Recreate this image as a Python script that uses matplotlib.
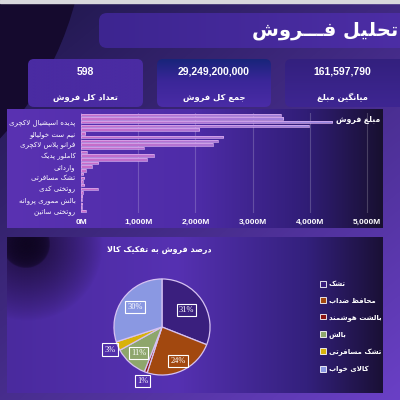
import numpy as np
import matplotlib
matplotlib.use('Agg')
import matplotlib.pyplot as plt
from matplotlib.patches import FancyBboxPatch, Circle, Rectangle
from matplotlib.colors import to_rgb

# ---------------- data ----------------
title_text = 'تحلیل فـــروش'
kpi_labels = ['تعداد کل فروش', 'جمع کل فروش', 'میانگین مبلغ']
kpi_values = ['598', '29,249,200,000', '161,597,790']

bar_title = 'مبلغ فروش'
bar_values_m = [3490, 3540, 4390, 3980, 2070, 70, 2490, 2390, 2300, 1100,
                100, 1270, 1150, 300, 190, 80, 40, 60, 30, 60,
                290, 30, 20, 15, 25, 10, 80]
bar_tick_labels = ['پدیده اسپشیال لاکچری', 'نیم ست خولیالو', 'فرانو پلاس لاکچری',
                   'کاملور پدیک', 'وارداتی', 'تشک مسافرتی', 'روتختی کدی',
                   'بالش مموری پروانه', 'روتختی ساتین']
x_ticks_m = [0, 1000, 2000, 3000, 4000, 5000]

pie_title = 'درصد فروش به تفکیک کالا'
pie_labels = ['تشک', 'محافظ ضداب', 'بالشت هوشمند', 'بالش', 'تشک مسافرتی', 'کالای خواب']
pie_values = [31, 24, 1, 11, 3, 30]

# ---------------- minimal Persian shaping ----------------
_F = {
 '\u0627': ('\uFE8D', '\uFE8E', None, None), '\u0622': ('\uFE81', '\uFE82', None, None),
 '\u0628': ('\uFE8F', '\uFE90', '\uFE91', '\uFE92'), '\u062A': ('\uFE95', '\uFE96', '\uFE97', '\uFE98'),
 '\u062B': ('\uFE99', '\uFE9A', '\uFE9B', '\uFE9C'), '\u062C': ('\uFE9D', '\uFE9E', '\uFE9F', '\uFEA0'),
 '\u062D': ('\uFEA1', '\uFEA2', '\uFEA3', '\uFEA4'), '\u062E': ('\uFEA5', '\uFEA6', '\uFEA7', '\uFEA8'),
 '\u062F': ('\uFEA9', '\uFEAA', None, None), '\u0630': ('\uFEAB', '\uFEAC', None, None),
 '\u0631': ('\uFEAD', '\uFEAE', None, None), '\u0632': ('\uFEAF', '\uFEB0', None, None),
 '\u0633': ('\uFEB1', '\uFEB2', '\uFEB3', '\uFEB4'), '\u0634': ('\uFEB5', '\uFEB6', '\uFEB7', '\uFEB8'),
 '\u0635': ('\uFEB9', '\uFEBA', '\uFEBB', '\uFEBC'), '\u0636': ('\uFEBD', '\uFEBE', '\uFEBF', '\uFEC0'),
 '\u0637': ('\uFEC1', '\uFEC2', '\uFEC3', '\uFEC4'), '\u0638': ('\uFEC5', '\uFEC6', '\uFEC7', '\uFEC8'),
 '\u0639': ('\uFEC9', '\uFECA', '\uFECB', '\uFECC'), '\u063A': ('\uFECD', '\uFECE', '\uFECF', '\uFED0'),
 '\u0641': ('\uFED1', '\uFED2', '\uFED3', '\uFED4'), '\u0642': ('\uFED5', '\uFED6', '\uFED7', '\uFED8'),
 '\u0644': ('\uFEDD', '\uFEDE', '\uFEDF', '\uFEE0'), '\u0645': ('\uFEE1', '\uFEE2', '\uFEE3', '\uFEE4'),
 '\u0646': ('\uFEE5', '\uFEE6', '\uFEE7', '\uFEE8'), '\u0647': ('\uFEE9', '\uFEEA', '\uFEEB', '\uFEEC'),
 '\u0648': ('\uFEED', '\uFEEE', None, None), '\u064A': ('\uFEF1', '\uFEF2', '\uFEF3', '\uFEF4'),
 '\u067E': ('\uFB56', '\uFB57', '\uFB58', '\uFB59'), '\u0686': ('\uFB7A', '\uFB7B', '\uFB7C', '\uFB7D'),
 '\u0698': ('\uFB8A', '\uFB8B', None, None), '\u06A9': ('\uFB8E', '\uFB8F', '\uFB90', '\uFB91'),
 '\u06AF': ('\uFB92', '\uFB93', '\uFB94', '\uFB95'), '\u06CC': ('\uFBFC', '\uFBFD', '\uFBFE', '\uFBFF'),
 '\u0640': ('\u0640', '\u0640', '\u0640', '\u0640'),
}


def fa(s):
    ch = list(s)
    n = len(ch)
    out = []
    dual = lambda c: c in _F and _F[c][2] is not None
    i = 0
    while i < n:
        c = ch[i]
        if c not in _F:
            if c != '\u200c':
                out.append(c)
            i += 1
            continue
        pj = i > 0 and dual(ch[i - 1])
        if c == '\u0644' and i + 1 < n and ch[i + 1] in ('\u0627', '\u0622'):
            if ch[i + 1] == '\u0627':
                out.append('\uFEFC' if pj else '\uFEFB')
            else:
                out.append('\uFEF6' if pj else '\uFEF5')
            i += 2
            continue
        nj = dual(c) and i + 1 < n and ch[i + 1] in _F
        f = _F[c]
        g = f[3] if (pj and nj) else f[1] if pj else f[2] if nj else f[0]
        out.append(g)
        i += 1
    return ''.join(reversed(out))


FA = ['DejaVu Sans']
NUM = ['Liberation Sans', 'DejaVu Sans']

# ---------------- helpers ----------------

def ramp(stops, n=256):
    pos = [s[0] for s in stops]
    cols = np.array([to_rgb(s[1]) for s in stops])
    t = np.linspace(0, 1, n)
    return np.stack([np.interp(t, pos, cols[:, k]) for k in range(3)], axis=-1)


def grad(ax, x0, x1, y0, y1, stops, horizontal=True, clip=None, z=1, alpha=1.0):
    arr = ramp(stops)
    img = arr[None, :, :] if horizontal else arr[:, None, :]
    im = ax.imshow(img, extent=(x0, x1, y1, y0), origin='upper', aspect='auto',
                   zorder=z, alpha=alpha, interpolation='bilinear')
    if clip is not None:
        im.set_clip_path(clip)
    return im


def blob(ax, cx, cy, r, color, z, amax=1.0, pw=0.6):
    n = 200
    xs = np.linspace(cx - r, cx + r, n)
    ys = np.linspace(cy - r, cy + r, n)
    X, Y = np.meshgrid(xs, ys)
    d = np.sqrt((X - cx) ** 2 + (Y - cy) ** 2) / r
    a = np.clip(1 - d, 0, 1) ** pw * amax
    rgba = np.zeros((n, n, 4))
    rgba[..., :3] = to_rgb(color)
    rgba[..., 3] = a
    return ax.imshow(rgba, extent=(cx - r, cx + r, cy + r, cy - r), origin='upper',
                     aspect='auto', zorder=z, interpolation='bilinear')


fig = plt.figure(figsize=(4, 4), dpi=100)
bg = fig.add_axes([0, 0, 1, 1])
bg.set_xlim(0, 400)
bg.set_ylim(400, 0)
bg.axis('off')

# page background
yy, xx = np.mgrid[0:200, 0:200] / 199.0
c1 = np.array(to_rgb('#1d1648'))
c2 = np.array(to_rgb('#6a40c6'))
t = np.clip(0.55 * yy + 0.45 * xx, 0, 1)[..., None]
bg.imshow(c1 * (1 - t) + c2 * t, extent=(0, 400, 400, 0), origin='upper',
          aspect='auto', zorder=0, interpolation='bilinear')
bg.add_patch(Circle((-236, -80), 321, color='#150a2e', zorder=0.5))
bg.add_patch(Rectangle((0, 0), 400, 3, color='#d8d8dc', zorder=10))

# title box
tb = FancyBboxPatch((99, 13), 320, 35, boxstyle='round,pad=0,rounding_size=8',
                    facecolor='none', edgecolor='none', zorder=2)
bg.add_patch(tb)
grad(bg, 99, 419, 13, 48, [(0, '#3d2590'), (1, '#4d2ea6')], clip=tb, z=2)
bg.text(398, 31, fa(title_text), family=FA, fontsize=14, fontweight='bold',
        color='white', ha='right', va='center', zorder=5)

# KPI boxes
kpi_boxes = [(28, 143), (157, 271), (285, 415)]
kpi_stops = [[(0, '#4a2ba2'), (1, '#4a2ba2')],
             [(0, '#18247a'), (0.45, '#3a2698'), (1, '#4a2ca6')],
             [(0, '#33207e'), (1, '#3e2692')]]
for (x0, x1), st, lab, val in zip(kpi_boxes, kpi_stops, kpi_labels, kpi_values):
    p = FancyBboxPatch((x0, 59), x1 - x0, 48, boxstyle='round,pad=0,rounding_size=6',
                       facecolor='none', edgecolor='none', zorder=2)
    bg.add_patch(p)
    grad(bg, x0, x1, 59, 107, st, horizontal=False, clip=p, z=2)
    cx = (x0 + min(x1, 400)) / 2
    bg.text(cx, 72, val, family=NUM, fontsize=7.5, fontweight='bold', color='white',
            ha='center', va='center', zorder=5)
    bg.text(cx, 97, fa(lab), family=FA, fontsize=6, fontweight='bold', color='white',
            ha='center', va='center', zorder=5)

# bar panel
bp = Rectangle((7, 109), 376, 119, facecolor='none', edgecolor='none', zorder=2)
bg.add_patch(bp)
grad(bg, 7, 383, 109, 228, [(0, '#5a32b2'), (0.5, '#4e2ca8'), (0.8, '#301d76'), (1, '#181030')],
     clip=bp, z=2)
bg.text(380, 120, fa(bar_title), family=FA, fontsize=5.5, fontweight='bold', color='white',
        ha='right', va='center', zorder=6)

# pie panel
pp = Rectangle((7, 237), 376, 156, facecolor='none', edgecolor='none', zorder=2)
bg.add_patch(pp)
grad(bg, 7, 383, 237, 393, [(0, '#4a2a9e'), (0.45, '#5631b2'), (0.8, '#33207c'), (1, '#1a1036')],
     clip=pp, z=2)
b = blob(bg, 28, 246, 75, '#170a30', 2.5, 0.9, 0.8)
b.set_clip_path(pp)
b2 = blob(bg, 26, 244, 24, '#0e0520', 2.6, 0.95, 0.2)
b2.set_clip_path(pp)
bg.text(159, 250, fa(pie_title), family=FA, fontsize=5.8, fontweight='bold', color='white',
        ha='center', va='center', zorder=6)

# ---------------- bar chart ----------------
ax = fig.add_axes([81 / 400, 1 - 213 / 400, 302 / 400, 100 / 400])
ax.set_facecolor('none')
idx = np.arange(len(bar_values_m))
bars = ax.barh(idx, bar_values_m, height=0.66, color='none', edgecolor='#dcb0f0',
               linewidth=0.5, zorder=4)
bar_ramp = ramp([(0, '#c86cc8'), (0.5, '#a878d8'), (1, '#8a8ee6')])
for rect in bars:
    x0, y0 = rect.get_x(), rect.get_y()
    w, h = rect.get_width(), rect.get_height()
    im = ax.imshow(bar_ramp[None, :, :], extent=(0, 5280, y0 + h, y0), origin='upper',
                   aspect='auto', zorder=3, interpolation='bilinear')
    im.set_clip_path(rect)
ax.set_ylim(len(bar_values_m) - 0.5, -0.5)
ax.set_xlim(0, 5280)
ax.set_xticks(x_ticks_m)
ax.set_xticklabels([f'{v:,}M' for v in x_ticks_m], family=NUM, fontsize=6, fontweight='bold', color='white')
ax.set_yticks(idx[2::3])
ax.set_yticklabels([fa(s) for s in bar_tick_labels], family=FA, fontsize=5.0, color='white')
ax.tick_params(length=0, pad=4)
ax.grid(axis='x', color='white', alpha=0.2, linewidth=0.8, zorder=1)
for s in ax.spines.values():
    s.set_visible(False)

# ---------------- pie chart ----------------
pax = fig.add_axes([(162 - 49) / 400, 1 - (327 + 49) / 400, 98 / 400, 98 / 400])
pie_colors = ['#3a1f7e', '#a2480f', '#8a1212', '#8ea66c', '#d8b20c', '#8a98e2']
wedges, _ = pax.pie(pie_values, colors=pie_colors, startangle=90, counterclock=False,
                    wedgeprops=dict(edgecolor='#d6c2f2', linewidth=0.9), radius=1)
pax.set_xlim(-1.02, 1.02)
pax.set_ylim(-1.02, 1.02)
pax.set_aspect('equal')
pax.axis('off')
label_r = [0.62, 0.78, 1.2, 0.73, 1.18, 0.7]
for w, v, r in zip(wedges, pie_values, label_r):
    ang = np.deg2rad((w.theta1 + w.theta2) / 2)
    pax.text(r * np.cos(ang), r * np.sin(ang), f'{v}%', family=['Liberation Serif', 'DejaVu Serif'],
             fontsize=6, color='white', ha='center', va='center', zorder=6, clip_on=False,
             bbox=dict(boxstyle='square,pad=0.25', facecolor='none', edgecolor='white', linewidth=0.8))

leg = fig.legend(wedges, [fa(s) for s in pie_labels], loc='upper left',
                 bbox_to_anchor=(320 / 400, 1 - 281 / 400), frameon=False,
                 prop=dict(family=FA, size=5.0, weight='bold'), labelcolor='white',
                 handlelength=0.9, handleheight=0.9, handletextpad=0.35, labelspacing=1.45,
                 borderaxespad=0, borderpad=0)
for h in leg.legend_handles:
    h.set_edgecolor('white')
    h.set_linewidth(0.6)

fig.savefig('out.png', dpi=100)
